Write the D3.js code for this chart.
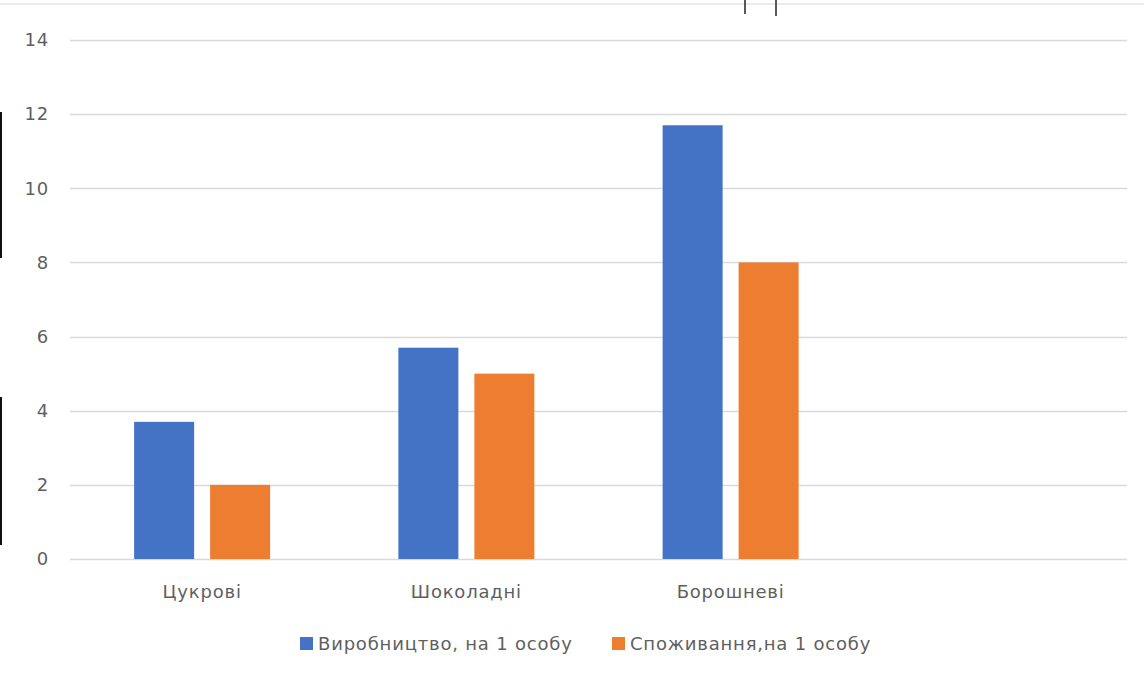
<!DOCTYPE html>
<html>
<head>
<meta charset="utf-8">
<script src="https://cdn.jsdelivr.net/npm/d3@7"></script>
<style>
  html, body { margin: 0; padding: 0; background: #fff; }
  svg { display: block; }
  text { font-family: "DejaVu Sans", "Noto Sans", sans-serif; fill: #5f5f5f; }
</style>
</head>
<body>
<svg id="chart" width="1144" height="675"></svg>
<script>
// Категорії кондитерських виробів (четверта позиція осі порожня)
const categories = ["Цукрові", "Шоколадні", "Борошневі", ""];
const seriesNames = ["Виробництво, на 1 особу", "Споживання,на 1 особу"];
const production = [3.7, 5.7, 11.7, null];
const consumption = [2, 5, 8, null];
const yTicks = [0, 2, 4, 6, 8, 10, 12, 14];
const colors = ["#4472C4", "#ED7D31"];

const FONT = "\"DejaVu Sans\", \"Noto Sans\", sans-serif";
const FS = 18;
const LS = 0.8;
const TEXT = "#5f5f5f";

const svg = d3.select("#chart");
const W = 1144, H = 675;
const margin = { top: 40, right: 17, bottom: 116, left: 70 };

const x = d3.scaleBand()
  .domain(d3.range(categories.length))
  .range([margin.left, W - margin.right]);

const y = d3.scaleLinear()
  .domain([0, 14])
  .range([H - margin.bottom, margin.top]);

// Горизонтальна сітка
svg.append("g")
  .selectAll("line")
  .data(yTicks)
  .join("line")
  .attr("x1", margin.left)
  .attr("x2", W - margin.right)
  .attr("y1", d => Math.round(y(d)) + 0.5)
  .attr("y2", d => Math.round(y(d)) + 0.5)
  .attr("stroke", "#D9D9D9")
  .attr("stroke-width", 1.3);

// Підписи осі Y
const yAxis = d3.axisLeft(y).tickValues(yTicks).tickSize(0).tickPadding(0);
const gy = svg.append("g")
  .attr("transform", `translate(${margin.left - 21},0)`)
  .call(yAxis);
gy.select(".domain").remove();
gy.selectAll("text")
  .attr("font-size", FS)
  .attr("letter-spacing", LS)
  .attr("fill", TEXT)
  .attr("font-family", FONT);

// Стовпці
const barW = 60, gap = 16;
const series = [production, consumption];
series.forEach((vals, si) => {
  svg.append("g")
    .selectAll("rect")
    .data(vals.map((v, i) => ({ v, i })).filter(d => d.v != null))
    .join("rect")
    .attr("x", d => x(d.i) + x.bandwidth() / 2 - (barW * 2 + gap) / 2 + si * (barW + gap))
    .attr("width", barW)
    .attr("y", d => y(d.v))
    .attr("height", d => y(0) - y(d.v))
    .attr("fill", colors[si]);
});

// Підписи категорій
const xAxis = d3.axisBottom(x).tickFormat(i => categories[i]).tickSize(0).tickPadding(0);
const gx = svg.append("g")
  .attr("transform", `translate(0,${y(0) + 39})`)
  .call(xAxis);
gx.select(".domain").remove();
gx.selectAll("text")
  .attr("font-size", FS)
  .attr("letter-spacing", LS)
  .attr("fill", TEXT)
  .attr("dy", null)
  .attr("font-family", FONT);

// Легенда
const legend = svg.append("g").attr("transform", "translate(0,644)");
const legendX = [300, 612];
seriesNames.forEach((name, i) => {
  legend.append("rect")
    .attr("x", legendX[i]).attr("y", -7)
    .attr("width", 13).attr("height", 13)
    .attr("fill", colors[i]);
  legend.append("text")
    .attr("x", legendX[i] + 18).attr("y", 6)
    .attr("font-size", FS)
    .attr("letter-spacing", LS)
    .attr("fill", TEXT)
    .attr("font-family", FONT)
    .text(name);
});

// Рамка полотна та межі сторінки
svg.append("line")
  .attr("x1", 0).attr("x2", W).attr("y1", 4).attr("y2", 4)
  .attr("stroke", "#ECECEC").attr("stroke-width", 2);
[[112, 258], [397, 545]].forEach(([a, b]) => {
  svg.append("line")
    .attr("x1", 1).attr("x2", 1).attr("y1", a).attr("y2", b)
    .attr("stroke", "#111").attr("stroke-width", 2);
});
[[745, 0, 14], [776, 0, 16]].forEach(([cx, a, b]) => {
  svg.append("line")
    .attr("x1", cx).attr("x2", cx).attr("y1", a).attr("y2", b)
    .attr("stroke", "#222").attr("stroke-width", 1.5);
});
</script>
</body>
</html>
